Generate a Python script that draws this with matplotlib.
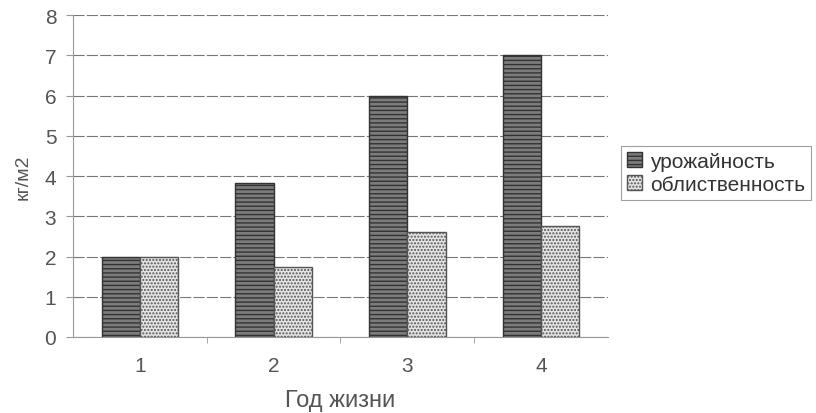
import matplotlib
matplotlib.use("Agg")
import matplotlib.pyplot as plt
import numpy as np

plt.rcParams['font.family'] = ['Liberation Sans', 'DejaVu Sans']
plt.rcParams['hatch.linewidth'] = 1.0

years = ['1', '2', '3', '4']
yield_vals = [2.0, 3.83, 6.0, 7.0]
leaf_vals = [2.0, 1.74, 2.6, 2.76]

fig = plt.figure(figsize=(8.16, 4.14), dpi=100)
ax = fig.add_axes([0.0895, 0.1836, 0.6555, 0.7774])

x = np.arange(len(years))
w = 0.2857
plt.rcParams['hatch.color'] = '#2e2e2e'
ax.bar(x - w / 2, yield_vals, w, color='#7c7c7c', edgecolor='#333333',
       hatch='----', linewidth=1, label='урожайность', zorder=3)
ax.bar(x + w / 2, leaf_vals, w, color='#e4e4e4', edgecolor='#555555',
       hatch='.....', linewidth=1, label='облиственность', zorder=3)

ax.set_xlim(-0.5, 3.5)
ax.set_ylim(0, 8)
ax.set_yticks(range(0, 9))
ax.set_xticks(x)
ax.set_xticklabels(years)
ax.set_xticks(x[:-1] + 0.5, minor=True)
ax.yaxis.grid(True, color='#777777', linewidth=0.8, linestyle=(0, (10, 2)))
ax.set_axisbelow(True)

for s in ['top', 'right']:
    ax.spines[s].set_visible(False)
ax.spines['left'].set_color('#999999')
ax.spines['bottom'].set_color('#999999')
ax.tick_params(axis='both', colors='#999999', labelcolor='#555555', labelsize=15, length=5)
ax.tick_params(axis='x', which='major', length=0, pad=14)
ax.tick_params(axis='x', which='minor', length=4, colors='#999999')
ax.tick_params(axis='y', pad=7)

ax.set_ylabel('кг/м2', fontsize=14, color='#555555', labelpad=9)
ax.set_xlabel('Год жизни', fontsize=17, color='#555555', labelpad=10)

leg = ax.legend(loc='center left', bbox_to_anchor=(1.005, 0.51), fontsize=15,
                frameon=True, fancybox=False, handlelength=0.7, handleheight=0.7,
                handletextpad=0.4, borderpad=0.3, labelspacing=0.2)
leg.get_frame().set_edgecolor('#888888')
leg.get_frame().set_linewidth(0.8)
for t in leg.get_texts():
    t.set_color('#333333')

fig.savefig('out.png', dpi=100)
